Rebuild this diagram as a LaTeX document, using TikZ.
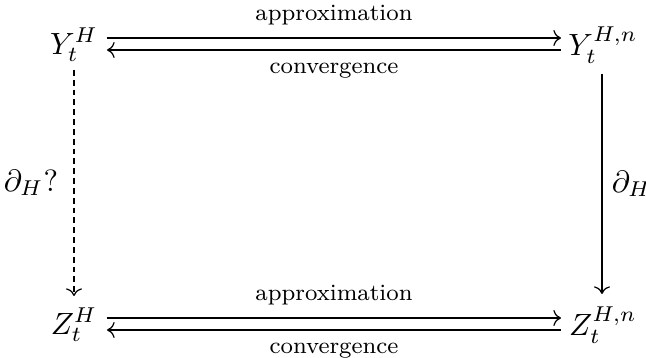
\documentclass[tikz,border=0pt]{standalone}
\usetikzlibrary{cd}
\begin{document}
\begin{tikzpicture}[x=0.3256pt, y=-0.3256pt,
  obj/.style={inner sep=0pt, font=\normalsize},
  lbl/.style={inner sep=0pt, font=\fontsize{7.6}{9}\selectfont},
  map/.style={line width=0.4pt, -{cm to}},
  dashmap/.style={map, dash pattern=on 1.9pt off 1.3pt}]
\useasboundingbox (0,0) rectangle (646,358);
% objects
\node[obj] (Y)  at (74,45)  {$Y_t^H$};
\node[obj] (Yn) at (603,45) {$Y_t^{H,n}$};
\node[obj] (Z)  at (74,325) {$Z_t^H$};
\node[obj] (Zn) at (603,325) {$Z_t^{H,n}$};
% end points of the arrows
\coordinate (Ya) at (107,38);  \coordinate (Yb) at (561,38);
\coordinate (Yc) at (107,50);  \coordinate (Yd) at (561,50);
\coordinate (Za) at (107,318); \coordinate (Zb) at (561,318);
\coordinate (Zc) at (107,330); \coordinate (Zd) at (561,330);
\coordinate (Ld1) at (74,70);  \coordinate (Ld2) at (74,296);
\coordinate (Rd1) at (602,74); \coordinate (Rd2) at (602,294);
% horizontal arrows
\draw[map] (Ya) -- (Yb) node[midway, above=4pt, lbl] {approximation};
\draw[map] (Yd) -- (Yc) node[midway, below=4pt, lbl] {convergence};
\draw[map] (Za) -- (Zb) node[midway, above=4pt, lbl] {approximation};
\draw[map] (Zd) -- (Zc) node[midway, below=4pt, lbl] {convergence};
% vertical arrows
\draw[dashmap] (Ld1) -- (Ld2) node[midway, left=5pt, obj] {$\partial_H?$};
\draw[map] (Rd1) -- (Rd2) node[midway, right=3pt, obj] {$\partial_H$};
\end{tikzpicture}
\end{document}
